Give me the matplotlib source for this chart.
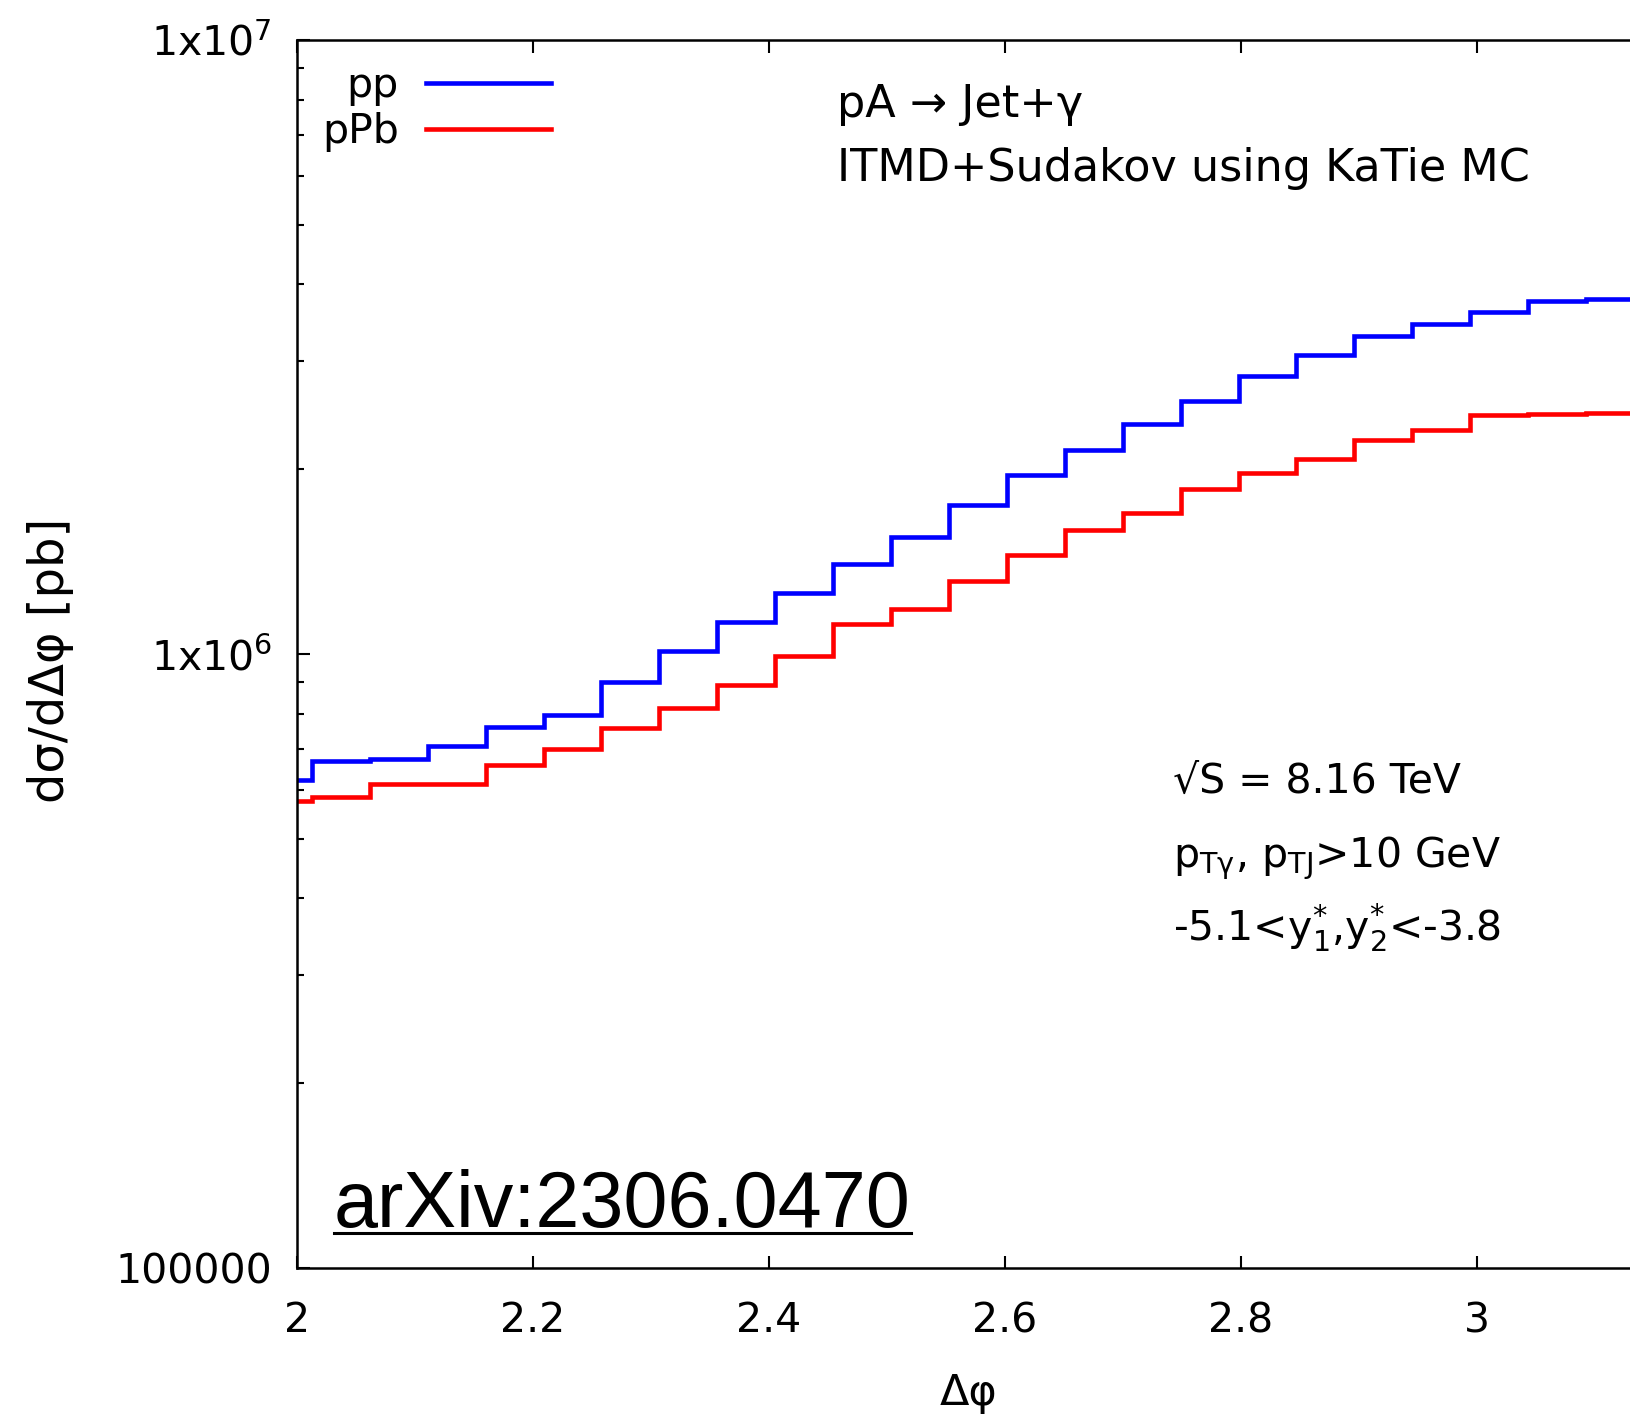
import numpy as np
import matplotlib
matplotlib.use("Agg")
from matplotlib import pyplot as plt
from matplotlib.lines import Line2D
from matplotlib.ticker import FixedLocator, FixedFormatter, LogLocator, NullFormatter

# bins: a partial bin from 2 up to 41*pi/64, then pi/64 wide bins up to pi
bin_edges = np.concatenate(([2.0], np.pi * np.arange(41, 65) / 64))

pp_values = [6.24e5, 6.69e5, 6.75e5, 7.08e5, 7.61e5, 7.96e5, 9.01e5, 1.010e6,
             1.126e6, 1.259e6, 1.404e6, 1.548e6, 1.746e6, 1.954e6, 2.147e6, 2.368e6,
             2.580e6, 2.838e6, 3.066e6, 3.292e6, 3.443e6, 3.611e6, 3.758e6, 3.790e6]
ppb_values = [5.76e5, 5.84e5, 6.13e5, 6.15e5, 6.60e5, 7.01e5, 7.58e5, 8.16e5,
              8.89e5, 9.94e5, 1.117e6, 1.183e6, 1.316e6, 1.450e6, 1.592e6, 1.696e6,
              1.858e6, 1.970e6, 2.076e6, 2.229e6, 2.320e6, 2.448e6, 2.460e6, 2.473e6]
series_labels = ["pp", "pPb"]
series_colors = ["#0000ff", "#ff0000"]

x_ticks = [2.0, 2.2, 2.4, 2.6, 2.8, 3.0]
x_ticklabels = ["2", "2.2", "2.4", "2.6", "2.8", "3"]
y_ticks = [1e5, 1e6, 1e7]
y_ticklabels = ["100000", "1x10$^{6}$", "1x10$^{7}$"]

W, H = 1630, 1416
plt.rcParams["font.family"] = ["DejaVu Sans"]
plt.rcParams["mathtext.fontset"] = "dejavusans"
FS = 29.5

fig = plt.figure(figsize=(W / 100, H / 100), dpi=100)
# the right edge of the frame (x = pi) sits just outside the picture
ax = fig.add_axes([297 / W, 1 - 1268 / H, (1644 - 297) / W, (1268 - 40) / H])

for vals, lab, col in zip([pp_values, ppb_values], series_labels, series_colors):
    ax.stairs(vals, bin_edges, color=col, linewidth=3.3, label=lab, baseline=None)

ax.set_xlim(2.0, np.pi)
ax.set_yscale("log")
ax.set_ylim(1e5, 1e7)

ax.xaxis.set_major_locator(FixedLocator(x_ticks))
ax.xaxis.set_major_formatter(FixedFormatter(x_ticklabels))
ax.yaxis.set_major_locator(FixedLocator(y_ticks))
ax.yaxis.set_major_formatter(FixedFormatter(y_ticklabels))
ax.yaxis.set_minor_locator(LogLocator(base=10, subs=np.arange(2, 10)))
ax.yaxis.set_minor_formatter(NullFormatter())

ax.tick_params(which="both", direction="in", top=True, right=True, width=1.5, labelsize=FS)
ax.tick_params(which="major", length=9)
ax.tick_params(which="minor", length=5)
ax.tick_params(axis="x", pad=24)
ax.tick_params(axis="y", pad=18)
for sp in ax.spines.values():
    sp.set_linewidth(1.8)

ax.set_xlabel("Δφ", fontsize=31, va="baseline")
ax.xaxis.set_label_coords(0.4985, -0.1116)
ax.set_ylabel("dσ/dΔφ [pb]", fontsize=34.5, va="center")
ax.yaxis.set_label_coords(-0.183, 0.495)

leg = ax.legend(loc="upper right", bbox_to_anchor=(551 / W, 1 - 66 / H),
                bbox_transform=fig.transFigure, frameon=False, markerfirst=False,
                fontsize=FS, handlelength=3.05, handletextpad=0.66, labelspacing=0.15,
                borderpad=0, borderaxespad=0)

fig.text(837 / W, 1 - 117 / H, "pA → Jet+γ", fontsize=32, va="baseline")
fig.text(837 / W, 1 - 181 / H, "ITMD+Sudakov using KaTie MC", fontsize=32, va="baseline")

fig.text(1173 / W, 1 - 793 / H, "√S = 8.16 TeV", fontsize=FS, va="baseline")
fig.text(1173 / W, 1 - 867 / H, "p$_{\\mathregular{Tγ}}$, p$_{\\mathregular{TJ}}$>10 GeV",
         fontsize=FS, va="baseline")
fig.text(1173 / W, 1 - 941 / H, "-5.1<y$^{*}_{1}$,y$^{*}_{2}$<-3.8", fontsize=FS, va="baseline")

arx = fig.text(334 / W, 1 - 1227 / H, "arXiv:2306.0470", fontsize=57,
               family="Liberation Sans", va="baseline")
fig.canvas.draw()
bb = arx.get_window_extent()
uy = (1416 - 1233) / H
fig.add_artist(Line2D([bb.x0 / W, bb.x1 / W], [uy, uy], transform=fig.transFigure,
                      color="black", linewidth=2.2))

fig.savefig("out.png", dpi=100)
